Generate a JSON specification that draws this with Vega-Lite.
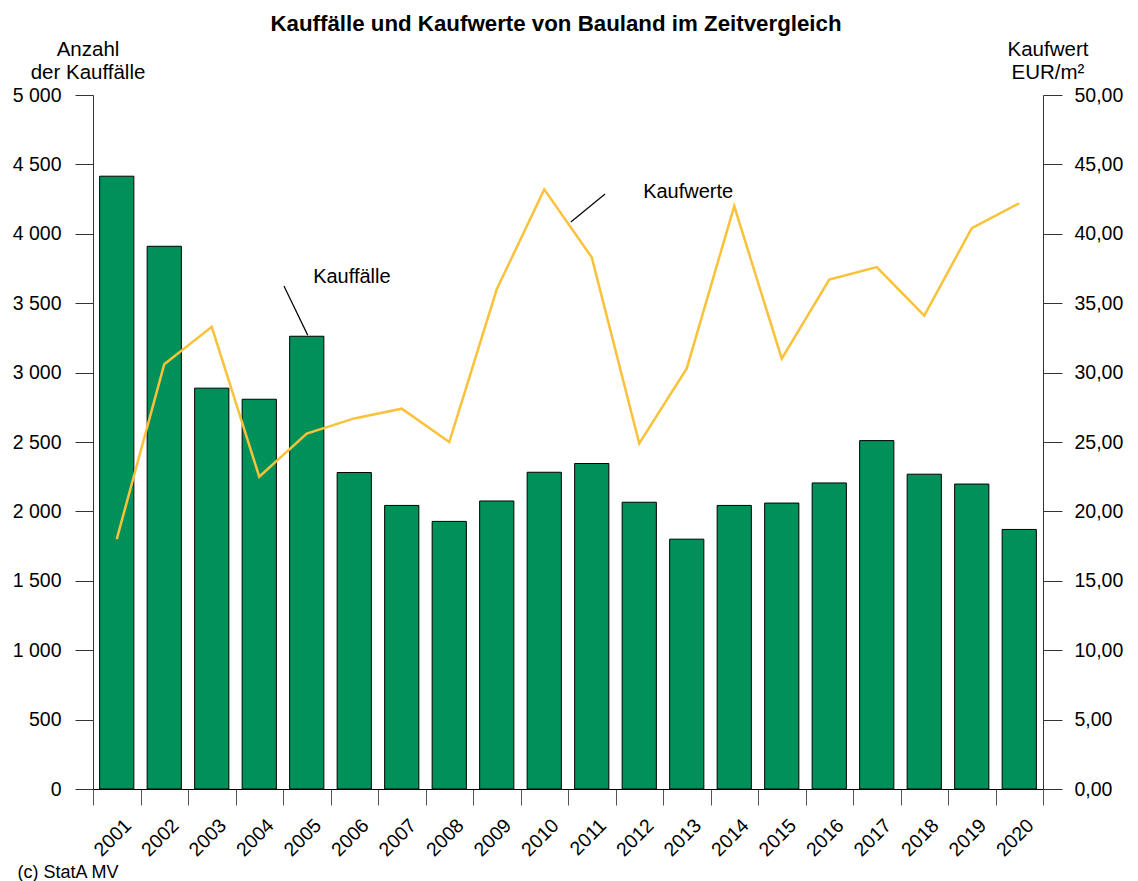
{
  "$schema": "https://vega.github.io/schema/vega-lite/v6.json",
  "width": 950,
  "height": 694,
  "autosize": "none",
  "padding": {"left": 93, "top": 95, "right": 95, "bottom": 92},
  "background": "white",
  "config": {
    "locale": {"number": {"decimal": ",", "thousands": " ", "grouping": [3], "currency": ["", " €"]}},
    "font": "Liberation Sans",
    "view": {"stroke": null},
    "axis": {"grid": false, "labelFont": "Liberation Sans", "titleFont": "Liberation Sans", "labelColor": "#000", "titleColor": "#000", "domainColor": "#333", "tickColor": "#333"}
  },
  "title": {"text": "Kauffälle und Kaufwerte von Bauland im Zeitvergleich", "fontSize": 22.3, "fontWeight": "bold", "font": "Liberation Sans", "color": "#000", "dx": -12, "offset": 4},
  "datasets": {
    "main": [
      {"Jahr": "2001", "Kauffaelle": 4415, "Kaufwert": 18.0},
      {"Jahr": "2002", "Kauffaelle": 3910, "Kaufwert": 30.6},
      {"Jahr": "2003", "Kauffaelle": 2888, "Kaufwert": 33.3},
      {"Jahr": "2004", "Kauffaelle": 2808, "Kaufwert": 22.5},
      {"Jahr": "2005", "Kauffaelle": 3262, "Kaufwert": 25.6},
      {"Jahr": "2006", "Kauffaelle": 2280, "Kaufwert": 26.7},
      {"Jahr": "2007", "Kauffaelle": 2043, "Kaufwert": 27.4},
      {"Jahr": "2008", "Kauffaelle": 1928, "Kaufwert": 25.0},
      {"Jahr": "2009", "Kauffaelle": 2075, "Kaufwert": 36.0},
      {"Jahr": "2010", "Kauffaelle": 2282, "Kaufwert": 43.2},
      {"Jahr": "2011", "Kauffaelle": 2345, "Kaufwert": 38.3},
      {"Jahr": "2012", "Kauffaelle": 2066, "Kaufwert": 24.9},
      {"Jahr": "2013", "Kauffaelle": 1800, "Kaufwert": 30.3},
      {"Jahr": "2014", "Kauffaelle": 2043, "Kaufwert": 42.0},
      {"Jahr": "2015", "Kauffaelle": 2060, "Kaufwert": 31.0},
      {"Jahr": "2016", "Kauffaelle": 2205, "Kaufwert": 36.7},
      {"Jahr": "2017", "Kauffaelle": 2510, "Kaufwert": 37.6},
      {"Jahr": "2018", "Kauffaelle": 2268, "Kaufwert": 34.1},
      {"Jahr": "2019", "Kauffaelle": 2197, "Kaufwert": 40.4},
      {"Jahr": "2020", "Kauffaelle": 1870, "Kaufwert": 42.2}
    ],
    "leftNote": [
      {"label": "Kauffälle", "x": 4.52, "y": 3624, "x2": 5.02, "y2": 3270, "tx": 5.95, "ty": 3690}
    ],
    "rightNote": [
      {"label": "Kaufwerte", "x": 11.28, "y": 42.87, "x2": 10.56, "y2": 40.85, "tx": 13.03, "ty": 43.0}
    ]
  },
  "layer": [
    {
      "data": {"name": "main"},
      "mark": {"type": "bar", "color": "#00905A", "stroke": "#000", "strokeWidth": 1, "width": {"band": 0.72}},
      "encoding": {
        "x": {"field": "Jahr", "type": "nominal", "sort": null,
          "scale": {"paddingInner": 0, "paddingOuter": 0},
          "axis": {"title": "(c) StatA MV", "titleAnchor": "start", "titleAlign": "left", "titleX": -76, "titleY": 83, "titleBaseline": "middle", "titleFontSize": 18, "titleFontWeight": "normal",
            "labelAngle": -45, "labelFontSize": 19.5, "labelAlign": "right", "labelBaseline": "middle", "labelPadding": 17,
            "tickBand": "extent", "tickSize": 16, "tickColor": "#555", "domainColor": "#000", "labelOffset": 11}},
        "y": {"field": "Kauffaelle", "type": "quantitative",
          "scale": {"domain": [0, 5000], "nice": false},
          "axis": {"orient": "left", "values": [0, 500, 1000, 1500, 2000, 2500, 3000, 3500, 4000, 4500, 5000], "format": ",.0f",
            "labelFontSize": 19.5, "labelPadding": 14, "tickSize": 18,
            "title": ["Anzahl", "der Kauffälle"], "titleAngle": 0, "titleFontSize": 20.5, "titleFontWeight": "normal", "titleAlign": "center", "titleBaseline": "top", "titleX": -5.5, "titleY": -56, "titleLineHeight": 23}}
      }
    },
    {
      "data": {"name": "main"},
      "mark": {"type": "line", "color": "#F9C23A", "strokeWidth": 2.5},
      "encoding": {
        "x": {"field": "Jahr", "type": "nominal", "sort": null, "scale": {"type": "point", "padding": 0.5}, "axis": null},
        "y": {"field": "Kaufwert", "type": "quantitative",
          "scale": {"domain": [0, 50], "nice": false},
          "axis": {"orient": "right", "values": [0, 5, 10, 15, 20, 25, 30, 35, 40, 45, 50], "format": ".2f",
            "labelFontSize": 19.5, "labelPadding": 12, "tickSize": 19,
            "title": ["Kaufwert", "EUR/m²"], "titleAngle": 0, "titleFontSize": 20.5, "titleFontWeight": "normal", "titleAlign": "center", "titleBaseline": "top", "titleX": 4.5, "titleY": -56, "titleLineHeight": 23}}
      }
    },
    {
      "data": {"name": "leftNote"},
      "mark": {"type": "rule", "color": "#000", "strokeWidth": 1.2},
      "encoding": {
        "x": {"field": "x", "type": "quantitative", "scale": {"domain": [0.5, 20.5], "nice": false, "zero": false}, "axis": null},
        "x2": {"field": "x2"},
        "y": {"field": "y", "type": "quantitative", "scale": {"domain": [0, 5000], "nice": false}, "axis": null},
        "y2": {"field": "y2"}
      }
    },
    {
      "data": {"name": "leftNote"},
      "mark": {"type": "text", "fontSize": 20, "color": "#000", "align": "center", "baseline": "middle"},
      "encoding": {
        "x": {"field": "tx", "type": "quantitative", "scale": {"domain": [0.5, 20.5], "nice": false, "zero": false}, "axis": null},
        "y": {"field": "ty", "type": "quantitative", "scale": {"domain": [0, 5000], "nice": false}, "axis": null},
        "text": {"field": "label"}
      }
    },
    {
      "data": {"name": "rightNote"},
      "mark": {"type": "rule", "color": "#000", "strokeWidth": 1.2},
      "encoding": {
        "x": {"field": "x", "type": "quantitative", "scale": {"domain": [0.5, 20.5], "nice": false, "zero": false}, "axis": null},
        "x2": {"field": "x2"},
        "y": {"field": "y", "type": "quantitative", "scale": {"domain": [0, 50], "nice": false}, "axis": null},
        "y2": {"field": "y2"}
      }
    },
    {
      "data": {"name": "rightNote"},
      "mark": {"type": "text", "fontSize": 20, "color": "#000", "align": "center", "baseline": "middle"},
      "encoding": {
        "x": {"field": "tx", "type": "quantitative", "scale": {"domain": [0.5, 20.5], "nice": false, "zero": false}, "axis": null},
        "y": {"field": "ty", "type": "quantitative", "scale": {"domain": [0, 50], "nice": false}, "axis": null},
        "text": {"field": "label"}
      }
    }
  ],
  "resolve": {"scale": {"x": "independent", "y": "independent"}}
}
